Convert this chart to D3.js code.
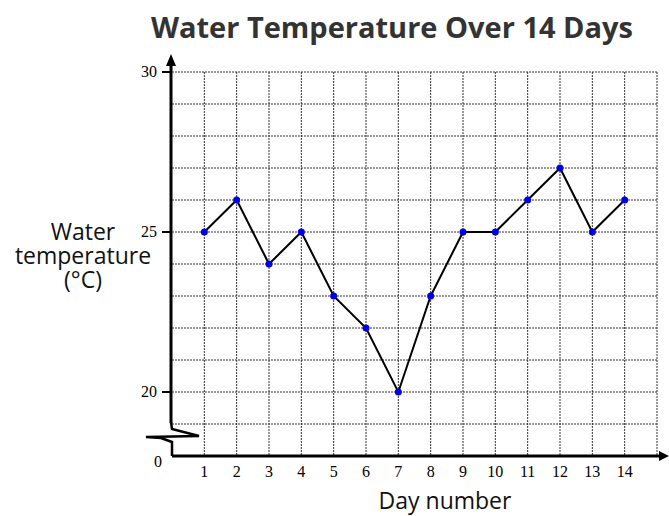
<!DOCTYPE html>
<html lang="en">
  <head>
    <meta charset="UTF-8" />
    <title>Water Temperature Over 14 Days</title>
    <script src="https://cdn.jsdelivr.net/npm/d3@7"></script>
    <style>
      body { margin: 0; background: #fff; }
      text { font-family: "Open Sans", sans-serif; }
      .tick-label { font-family: "Liberation Serif", "DejaVu Serif", serif; font-size: 16px; fill: #000; }
    </style>
  </head>
  <body>
    <script>
      // chart data
      var days = [1, 2, 3, 4, 5, 6, 7, 8, 9, 10, 11, 12, 13, 14];
      var temps = [25, 26, 24, 25, 23, 22, 20, 23, 25, 25, 26, 27, 25, 26];
      var yTickLabels = [20, 25, 30];

      var width = 669, height = 516;

      var svg = d3.select("body").append("svg")
        .attr("width", width)
        .attr("height", height);

      // x: 0..15 across the grid; y: axis base (shown as 0) sits at 18, broken axis
      var x = d3.scaleLinear().domain([0, 15]).range([172, 657]);
      var y = d3.scaleLinear().domain([18, 30]).range([456, 72]);
      var yBase = 18;

      // grid
      var grid = svg.append("g")
        .attr("stroke", "#333")
        .attr("stroke-width", 1)
        .attr("stroke-dasharray", "2,1");

      grid.selectAll("line.v").data(d3.range(1, 16)).enter()
        .append("line")
        .attr("x1", function (d) { return x(d); })
        .attr("x2", function (d) { return x(d); })
        .attr("y1", y(30))
        .attr("y2", y(yBase));

      grid.selectAll("line.h").data(d3.range(19, 31)).enter()
        .append("line")
        .attr("x1", x(0))
        .attr("x2", x(15))
        .attr("y1", function (d) { return y(d); })
        .attr("y2", function (d) { return y(d); });

      // axes
      var axisG = svg.append("g").attr("stroke", "#000").attr("fill", "none");

      // x axis line + arrow
      axisG.append("line")
        .attr("x1", x(0)).attr("x2", x(15) + 4)
        .attr("y1", y(yBase)).attr("y2", y(yBase))
        .attr("stroke-width", 3);
      svg.append("path")
        .attr("d", d3.line()([[x(15) + 2, y(yBase) - 5], [x(15) + 12, y(yBase)], [x(15) + 2, y(yBase) + 5]]))
        .attr("fill", "#000");

      // y axis line + arrow
      axisG.append("line")
        .attr("x1", x(0) - 1).attr("x2", x(0) - 1)
        .attr("y1", y(30) - 6).attr("y2", y(19) - 1)
        .attr("stroke-width", 3);
      svg.append("path")
        .attr("d", d3.line()([[x(0) - 6, y(30) - 6], [x(0) - 1, y(30) - 18], [x(0) + 4, y(30) - 6]]))
        .attr("fill", "#000");

      // axis break zigzag
      var xb = x(0) - 1;
      axisG.append("path")
        .attr("d", d3.line()([
          [xb, y(19) - 2],
          [xb + 1, y(19) + 5],
          [xb + 28, y(19) + 12],
          [xb - 25, y(19) + 13],
          [xb - 10, y(19) + 14],
          [xb + 1, y(19) + 18],
          [xb + 1, y(yBase)]
        ]))
        .attr("stroke-width", 2.5)
        .attr("stroke-linejoin", "miter");

      // y ticks
      axisG.selectAll("line.yt").data(yTickLabels).enter()
        .append("line")
        .attr("x1", x(0) - 10).attr("x2", x(0))
        .attr("y1", function (d) { return y(d); })
        .attr("y2", function (d) { return y(d); })
        .attr("stroke-width", 2);

      svg.selectAll("text.yl").data(yTickLabels).enter()
        .append("text")
        .attr("class", "tick-label")
        .attr("x", x(0) - 15)
        .attr("y", function (d) { return y(d) + 5; })
        .attr("text-anchor", "end")
        .text(function (d) { return d; });

      svg.append("text")
        .attr("class", "tick-label")
        .attr("x", x(0) - 10)
        .attr("y", y(yBase) + 11)
        .attr("text-anchor", "end")
        .text("0");

      svg.selectAll("text.xl").data(days).enter()
        .append("text")
        .attr("class", "tick-label")
        .attr("x", function (d) { return x(d); })
        .attr("y", y(yBase) + 21)
        .attr("text-anchor", "middle")
        .text(function (d) { return d; });

      // data line
      var line = d3.line()
        .x(function (d, i) { return x(days[i]); })
        .y(function (d) { return y(d); });

      svg.append("path")
        .datum(temps)
        .attr("d", line)
        .attr("fill", "none")
        .attr("stroke", "#000")
        .attr("stroke-width", 2);

      svg.selectAll("circle.pt").data(temps).enter()
        .append("circle")
        .attr("cx", function (d, i) { return x(days[i]); })
        .attr("cy", function (d) { return y(d); })
        .attr("r", 3.5)
        .attr("fill", "#0000e0");

      // title and axis titles
      svg.append("text")
        .attr("x", 392)
        .attr("y", 38)
        .attr("text-anchor", "middle")
        .attr("font-size", 29)
        .attr("font-weight", "bold")
        .attr("fill", "#333")
        .text("Water Temperature Over 14 Days");

      svg.append("text")
        .attr("x", 445)
        .attr("y", 509)
        .attr("text-anchor", "middle")
        .attr("font-size", 23)
        .attr("fill", "#111")
        .text("Day number");

      var yTitle = ["Water", "temperature", "(\u00B0C)"];
      svg.selectAll("text.yt").data(yTitle).enter()
        .append("text")
        .attr("x", 83)
        .attr("y", function (d, i) { return 240 + i * 24; })
        .attr("text-anchor", "middle")
        .attr("font-size", 23)
        .attr("fill", "#111")
        .text(function (d) { return d; });
    </script>
  </body>
</html>
